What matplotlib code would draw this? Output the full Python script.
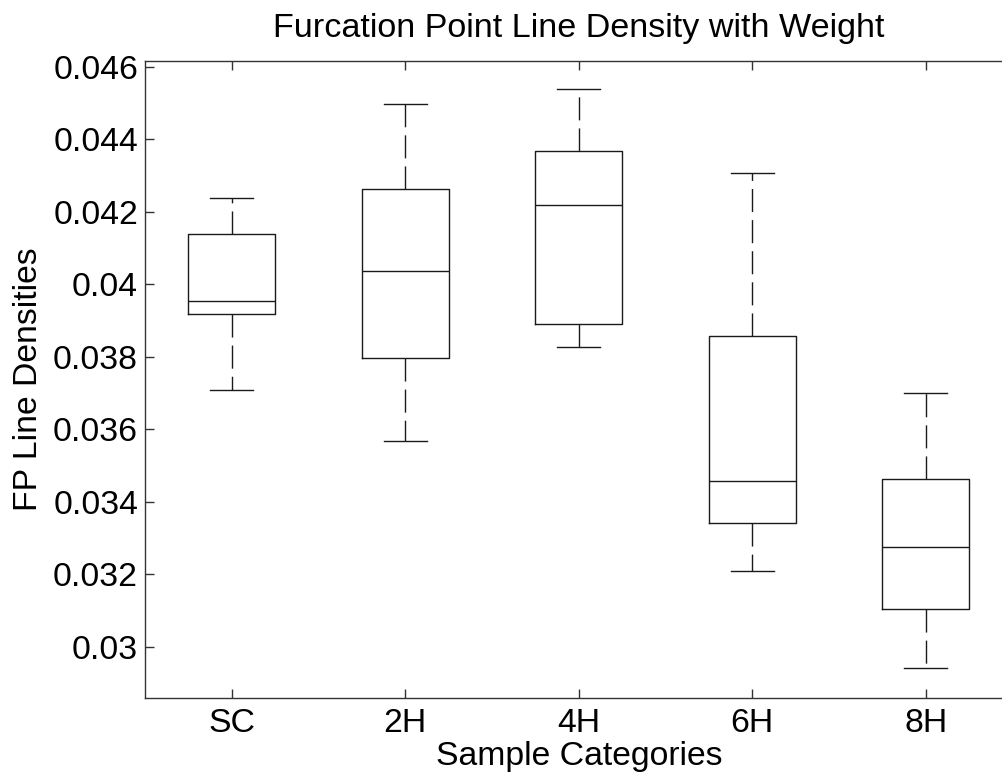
import matplotlib
matplotlib.use("Agg")
import matplotlib.pyplot as plt

plt.rcParams['font.family'] = ['Liberation Sans', 'DejaVu Sans']

categories = ['SC', '2H', '4H', '6H', '8H']
whislo = [0.03709, 0.03569, 0.03828, 0.03210, 0.02943]
q1 = [0.03918, 0.03796, 0.03890, 0.03343, 0.03105]
med = [0.03954, 0.04038, 0.04218, 0.03458, 0.03277]
q3 = [0.04139, 0.04264, 0.04368, 0.03858, 0.03464]
whishi = [0.04239, 0.04498, 0.04538, 0.04307, 0.03700]
yticks = [0.03, 0.032, 0.034, 0.036, 0.038, 0.04, 0.042, 0.044, 0.046]
ytick_labels = ['0.03', '0.032', '0.034', '0.036', '0.038', '0.04', '0.042', '0.044', '0.046']

stats = []
for i, c in enumerate(categories):
    stats.append(dict(label=c, whislo=whislo[i], q1=q1[i], med=med[i],
                      q3=q3[i], whishi=whishi[i], fliers=[]))

fig = plt.figure(figsize=(10.03, 7.73), dpi=100)
ax = fig.add_axes([0.14457, 0.09741, 0.86490, 0.82406])

lc = '#1a1a1a'
ax.bxp(stats, positions=range(1, len(categories) + 1), widths=0.5, capwidths=0.25,
       showfliers=False,
       boxprops=dict(color=lc, linewidth=1.0),
       medianprops=dict(color=lc, linewidth=1.0),
       whiskerprops=dict(color=lc, linewidth=1.0, linestyle=(0, (16.6, 5.8))),
       capprops=dict(color=lc, linewidth=1.0))

ax.set_xlim(0.5, 5.5)
ax.set_ylim(0.0286, 0.04617)
ax.set_yticks(yticks)
ax.set_yticklabels(ytick_labels)
ax.set_xticks(range(1, len(categories) + 1))
ax.set_xticklabels(categories)

ax.tick_params(axis='both', direction='in', top=True, right=True, length=6.5,
               width=1.0, color='#333333', labelsize=24.3, labelcolor='black')
ax.tick_params(axis='y', pad=5)
ax.tick_params(axis='x', pad=7.5)
for s in ax.spines.values():
    s.set_linewidth(1.0)
    s.set_color('#333333')

ax.set_title('Furcation Point Line Density with Weight', fontsize=24.6, pad=17)
ax.set_xlabel('Sample Categories', fontsize=24.3, labelpad=1.3)
ax.set_ylabel('FP Line Densities', fontsize=24.3, labelpad=6.5)

fig.savefig('out.png', dpi=100)
